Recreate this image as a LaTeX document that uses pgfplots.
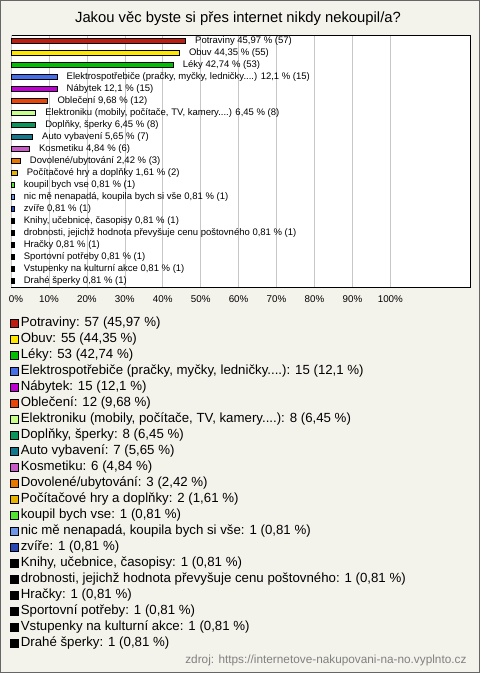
\documentclass[border=0pt]{standalone}
\usepackage{pgfplots}
\pgfplotsset{compat=1.18}
\usepackage{fontspec}
\setmainfont{Liberation Sans}
\definecolor{bgc}{RGB}{244,243,235}
\definecolor{c1}{RGB}{190,30,15}
\definecolor{c2}{RGB}{255,230,0}
\definecolor{c3}{RGB}{0,190,0}
\definecolor{c4}{RGB}{70,110,230}
\definecolor{c5}{RGB}{190,0,210}
\definecolor{c6}{RGB}{230,70,10}
\definecolor{c7}{RGB}{200,255,140}
\definecolor{c8}{RGB}{10,150,90}
\definecolor{c9}{RGB}{20,120,140}
\definecolor{c10}{RGB}{200,90,200}
\definecolor{c11}{RGB}{230,120,0}
\definecolor{c12}{RGB}{230,180,0}
\definecolor{c13}{RGB}{80,230,50}
\definecolor{c14}{RGB}{110,150,230}
\definecolor{c15}{RGB}{40,70,180}
\definecolor{c16}{RGB}{0,0,0}
\newcommand{\cat}[5]{\addplot[fill=#1, draw=black, line width=0.6bp, nodes near coords={#4}] coordinates {(#2,#3)};
\addlegendentry{#5}}
\begin{document}
\begin{tikzpicture}
\fill[bgc] (0,0) rectangle (480bp,-673bp);
\draw[black!60, line width=1bp] (0.5bp,-0.5bp) rectangle (479.5bp,-672.5bp);
\path[use as bounding box] (0,0) rectangle (480bp,-673bp);
\node[font=\fontsize{14.8bp}{17bp}\selectfont] at (238bp,-19bp) {Jakou věc byste si přes internet nikdy nekoupil/a?};
\begin{axis}[
  at={(11bp,-35bp)}, anchor=north west,
  scale only axis, width=459bp, height=252bp,
  xmin=0, xmax=121, ymin=-0.5, ymax=20.5, y dir=reverse,
  xbar, bar width=5.5bp, bar shift=0pt,
  clip=false,
  axis background/.style={fill=white},
  axis line style={black, line width=0.8bp},
  xtick={10,20,...,100}, ytick=\empty,
  extra x ticks={0},
  extra x tick style={xticklabel style={xshift=5bp}},
  xticklabel={\pgfmathprintnumber{\tick}\%},
  /pgf/number format/assume math mode=true,
  xticklabel style={font=\fontsize{9.8bp}{11bp}\selectfont, yshift=-5bp},
  major tick length=0pt,
  xmajorgrids, grid style={black!22, line width=0.6bp},
  nodes near coords style={font=\fontsize{9.5bp}{11bp}\selectfont, anchor=west, inner sep=0pt, xshift=9.5bp, text=black},
  legend image code/.code={\draw[#1,draw=black,line width=0.6bp] (0bp,-3bp) rectangle (8bp,5bp);},
  legend cell align=left,
  legend style={at={(axis description cs:-0.00327,-0.11706)}, anchor=north west,
    draw=none, fill=none, inner sep=0pt, row sep=0pt, column sep=2.5bp,
    font=\fontsize{13.25bp}{16bp}\selectfont,
    nodes={inner sep=0pt, text height=10bp, text depth=6bp}},
]
\cat{c1}{45.97}{0}{Potraviny 45,97 \% (57)}{Potraviny: 57 (45,97 \%)}
\cat{c2}{44.35}{1}{Obuv 44,35 \% (55)}{Obuv: 55 (44,35 \%)}
\cat{c3}{42.74}{2}{Léky 42,74 \% (53)}{Léky: 53 (42,74 \%)}
\cat{c4}{12.1}{3}{Elektrospotřebiče (pračky, myčky, ledničky....) 12,1 \% (15)}{Elektrospotřebiče (pračky, myčky, ledničky....): 15 (12,1 \%)}
\cat{c5}{12.1}{4}{Nábytek 12,1 \% (15)}{Nábytek: 15 (12,1 \%)}
\cat{c6}{9.68}{5}{Oblečení 9,68 \% (12)}{Oblečení: 12 (9,68 \%)}
\cat{c7}{6.45}{6}{Elektroniku (mobily, počítače, TV, kamery....) 6,45 \% (8)}{Elektroniku (mobily, počítače, TV, kamery....): 8 (6,45 \%)}
\cat{c8}{6.45}{7}{Doplňky, šperky 6,45 \% (8)}{Doplňky, šperky: 8 (6,45 \%)}
\cat{c9}{5.65}{8}{Auto vybavení 5,65 \% (7)}{Auto vybavení: 7 (5,65 \%)}
\cat{c10}{4.84}{9}{Kosmetiku 4,84 \% (6)}{Kosmetiku: 6 (4,84 \%)}
\cat{c11}{2.42}{10}{Dovolené/ubytování 2,42 \% (3)}{Dovolené/ubytování: 3 (2,42 \%)}
\cat{c12}{1.61}{11}{Počítačové hry a doplňky 1,61 \% (2)}{Počítačové hry a doplňky: 2 (1,61 \%)}
\cat{c13}{0.81}{12}{koupil bych vse 0,81 \% (1)}{koupil bych vse: 1 (0,81 \%)}
\cat{c14}{0.81}{13}{nic mě nenapadá, koupila bych si vše 0,81 \% (1)}{nic mě nenapadá, koupila bych si vše: 1 (0,81 \%)}
\cat{c15}{0.81}{14}{zvíře 0,81 \% (1)}{zvíře: 1 (0,81 \%)}
\cat{c16}{0.81}{15}{Knihy, učebnice, časopisy 0,81 \% (1)}{Knihy, učebnice, časopisy: 1 (0,81 \%)}
\cat{c16}{0.81}{16}{drobnosti, jejichž hodnota převyšuje cenu poštovného 0,81 \% (1)}{drobnosti, jejichž hodnota převyšuje cenu poštovného: 1 (0,81 \%)}
\cat{c16}{0.81}{17}{Hračky 0,81 \% (1)}{Hračky: 1 (0,81 \%)}
\cat{c16}{0.81}{18}{Sportovní potřeby 0,81 \% (1)}{Sportovní potřeby: 1 (0,81 \%)}
\cat{c16}{0.81}{19}{Vstupenky na kulturní akce 0,81 \% (1)}{Vstupenky na kulturní akce: 1 (0,81 \%)}
\cat{c16}{0.81}{20}{Drahé šperky 0,81 \% (1)}{Drahé šperky: 1 (0,81 \%)}
\end{axis}
\node[anchor=east, text=black!50, font=\fontsize{11.8bp}{13bp}\selectfont] at (470bp,-660bp) {zdroj: https://internetove-nakupovani-na-no.vyplnto.cz};
\end{tikzpicture}
\end{document}
